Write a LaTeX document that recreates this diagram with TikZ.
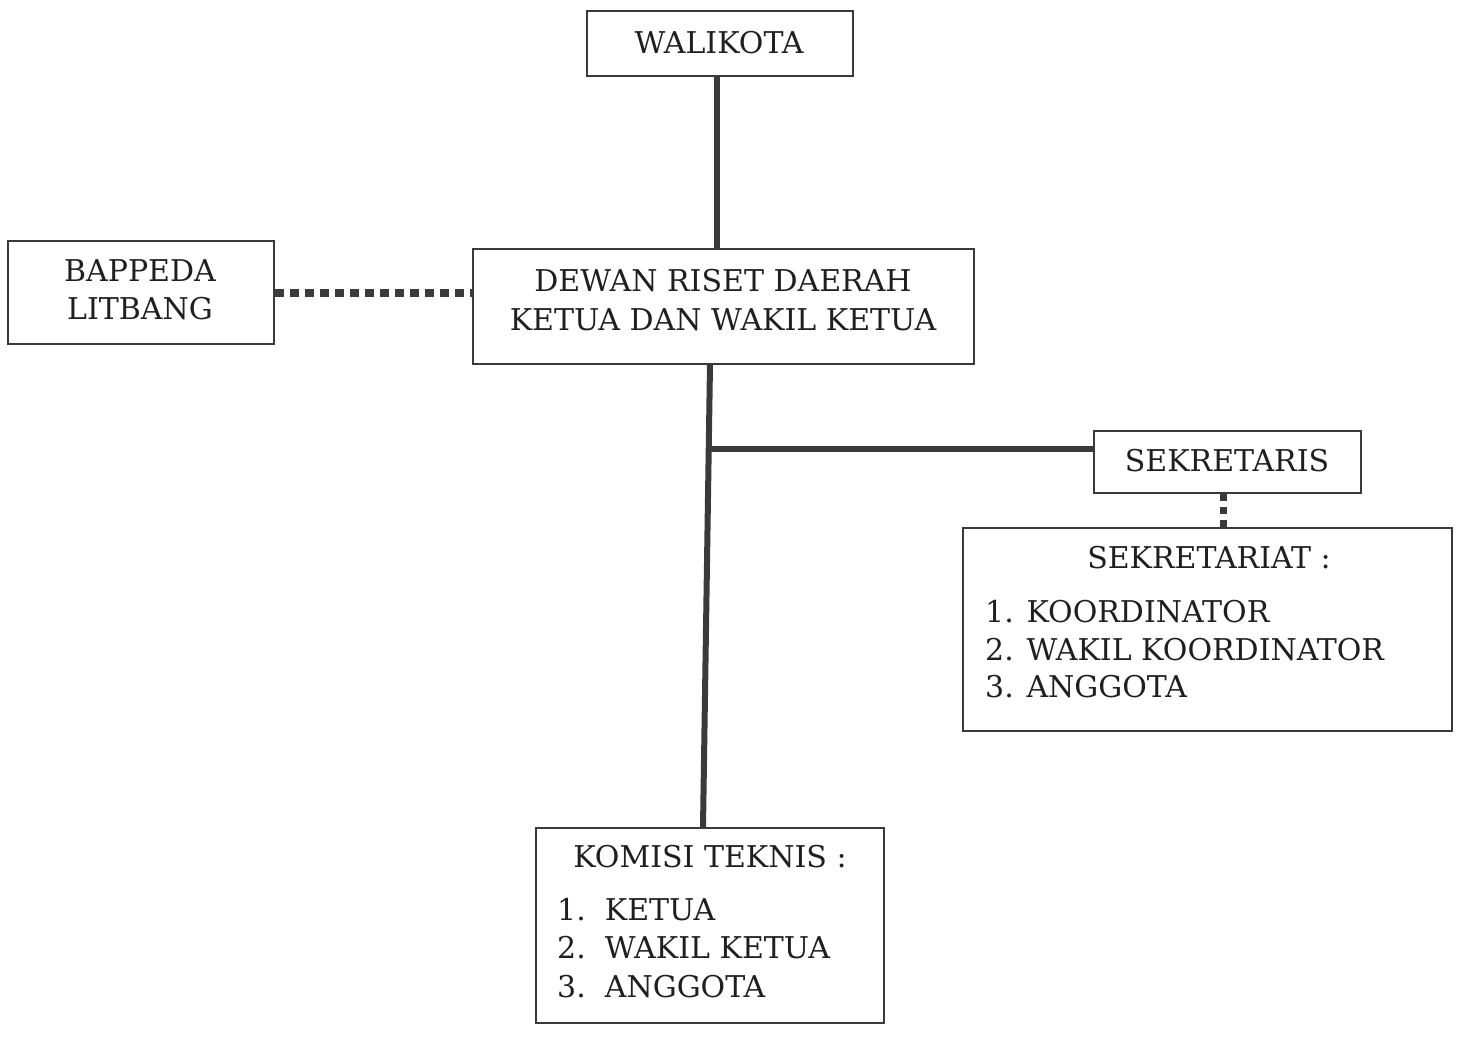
\documentclass[tikz,border=0pt]{standalone}
\usepackage{fontspec}
\setmainfont{DejaVu Serif}
\definecolor{ink}{HTML}{3A3A3A}
\begin{document}
\begin{tikzpicture}[x=1pt,y=-1pt,
  box/.style={draw=ink,line width=1.8pt,minimum width=#1,inner sep=0pt,anchor=north west},
  lbl/.style={font=\fontsize{30}{36}\selectfont,text=black!88,inner sep=0pt},
  solidcon/.style={draw=ink,line width=6pt},
  dotcon/.style={draw=ink,line width=8pt,dash pattern=on 9pt off 6pt}]
\useasboundingbox (0,0) rectangle (1459,1037);
% boxes
\node[box=266pt,minimum height=65pt] (wal) at (586,10) {};
\node[box=266pt,minimum height=103pt] (bap) at (7,240) {};
\node[box=501pt,minimum height=115pt] (dew) at (472,248) {};
\node[box=267pt,minimum height=62pt] (sek) at (1093,430) {};
\node[box=489pt,minimum height=203pt] (sekt) at (962,527) {};
\node[box=348pt,minimum height=195pt] (kom) at (535,827) {};
% texts
\node[lbl] (t1) at (719,43) {WALIKOTA};
\node[lbl] (t2) at (140,271) {BAPPEDA};
\node[lbl] (t3) at (140,309) {LITBANG};
\node[lbl] (t4) at (723,281) {DEWAN RISET DAERAH};
\node[lbl] (t5) at (723,320) {KETUA DAN WAKIL KETUA};
\node[lbl] (t6) at (1227,461) {SEKRETARIS};
\node[lbl] (t7) at (1209,558) {SEKRETARIAT :};
\node[lbl,anchor=west] (t8) at (985,612) {1. KOORDINATOR};
\node[lbl,anchor=west] (t9) at (985,650) {2. WAKIL KOORDINATOR};
\node[lbl,anchor=west] (t10) at (985,687) {3. ANGGOTA};
\node[lbl] (t11) at (710,857) {KOMISI TEKNIS :};
\node[lbl,anchor=west] (t12) at (557,910) {1.\ \ KETUA};
\node[lbl,anchor=west] (t13) at (557,948) {2.\ \ WAKIL KETUA};
\node[lbl,anchor=west] (t14) at (557,987) {3.\ \ ANGGOTA};
% connectors
\coordinate (jn) at (708,449);
\draw[solidcon] (wal.south -| 717,0) -- (dew.north -| 717,0);
\draw[solidcon] (dew.south -| 710,0) -- (kom.north -| 703,0);
\draw[solidcon] (jn) -- (sek.west |- jn);
\draw[dotcon] (bap.east |- 0,293) -- (dew.west |- 0,293);
\draw[draw=ink,line width=7pt,dash pattern=on 7pt off 6pt] (sek.south -| 1223,0) -- (sekt.north -| 1223,0);
\end{tikzpicture}
\end{document}
